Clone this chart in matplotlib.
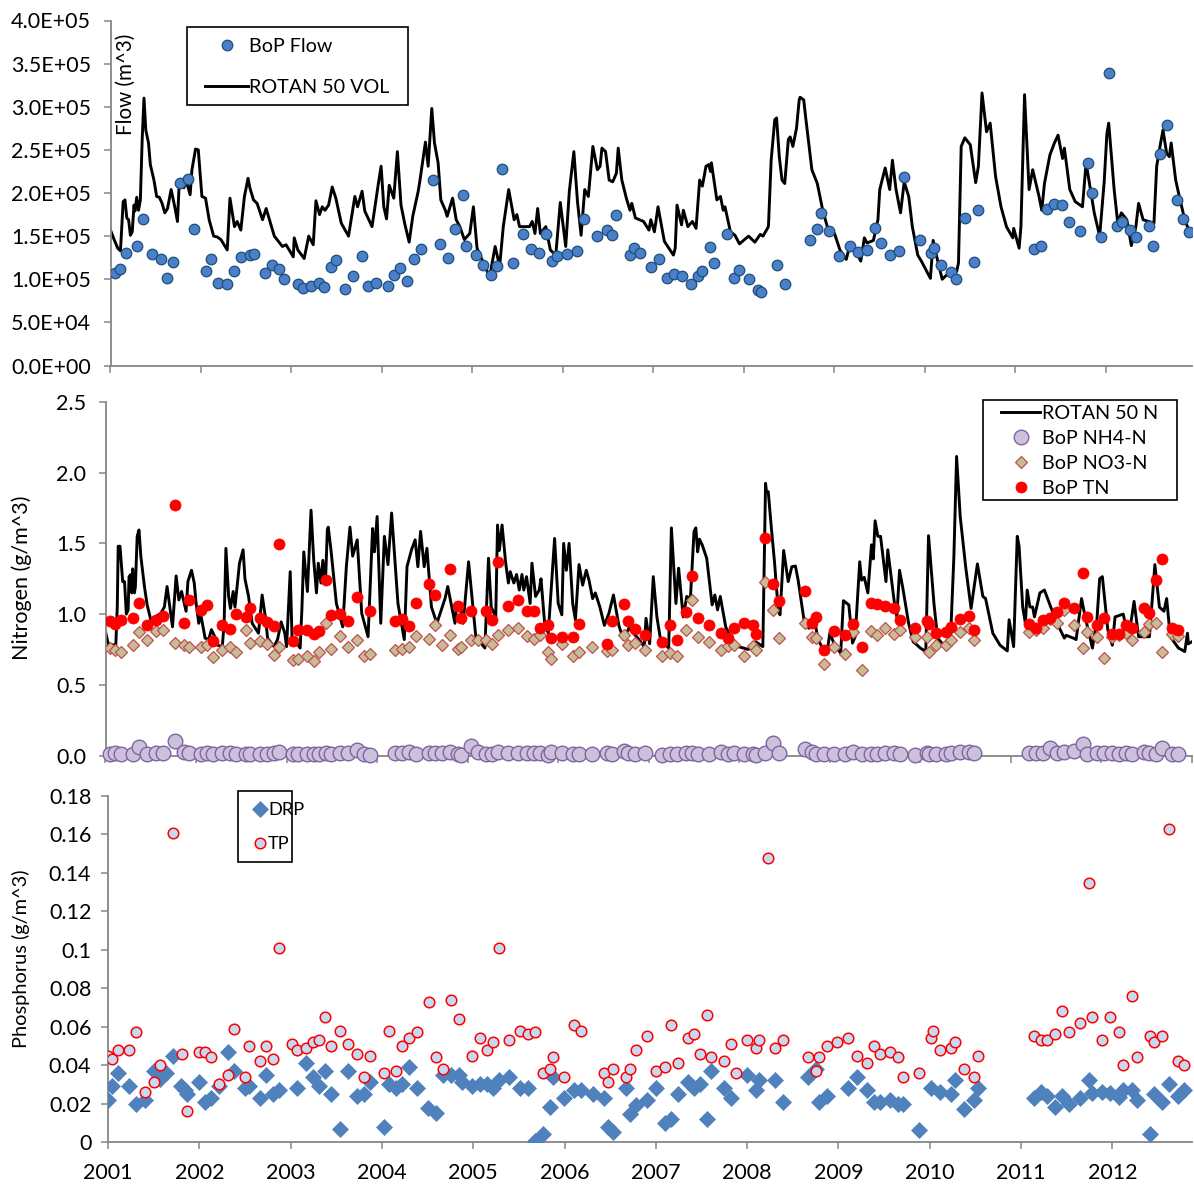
import matplotlib
matplotlib.use('Agg')
import matplotlib.pyplot as plt
from matplotlib.patches import Rectangle

plt.rcParams['font.family'] = ['Lato', 'DejaVu Sans']

# ---- flow panel (values in 1e5 m^3)
flow_t = [2001.05, 2001.11, 2001.17, 2001.29, 2001.36, 2001.46, 2001.56, 2001.62, 2001.69, 2001.77,
          2001.86, 2001.92, 2002.06, 2002.11, 2002.19, 2002.29, 2002.36, 2002.44, 2002.54, 2002.59,
          2002.71, 2002.78, 2002.86, 2002.92, 2003.07, 2003.13, 2003.22, 2003.30, 2003.36, 2003.44,
          2003.49, 2003.59, 2003.68, 2003.78, 2003.85, 2003.93, 2004.07, 2004.13, 2004.20, 2004.28,
          2004.35, 2004.43, 2004.56, 2004.64, 2004.73, 2004.81, 2004.89, 2004.93, 2005.04, 2005.12,
          2005.20, 2005.27, 2005.33, 2005.45, 2005.56, 2005.65, 2005.73, 2005.81, 2005.88, 2005.93,
          2006.04, 2006.16, 2006.23, 2006.38, 2006.49, 2006.54, 2006.59, 2006.74, 2006.78, 2006.85,
          2006.97, 2007.06, 2007.15, 2007.23, 2007.31, 2007.41, 2007.49, 2007.54, 2007.62, 2007.67,
          2007.81, 2007.89, 2007.94, 2008.06, 2008.16, 2008.19, 2008.37, 2008.45, 2008.73, 2008.81,
          2008.85, 2008.94, 2009.05, 2009.17, 2009.26, 2009.36, 2009.45, 2009.51, 2009.61, 2009.71,
          2009.77, 2009.94, 2010.07, 2010.10, 2010.18, 2010.29, 2010.34, 2010.44, 2010.54, 2010.59,
          2011.20, 2011.28, 2011.35, 2011.43, 2011.51, 2011.59, 2011.71, 2011.80, 2011.84, 2011.95,
          2012.03, 2012.12, 2012.18, 2012.27, 2012.33, 2012.47, 2012.52, 2012.60, 2012.67, 2012.78,
          2012.85, 2012.92]
flow_v = [1.07, 1.12, 1.31, 1.39, 1.70, 1.29, 1.23, 1.02, 1.20, 2.12,
          2.16, 1.58, 1.10, 1.23, 0.96, 0.95, 1.10, 1.26, 1.28, 1.29,
          1.07, 1.17, 1.12, 1.00, 0.95, 0.90, 0.92, 0.96, 0.91, 1.14,
          1.22, 0.89, 1.04, 1.27, 0.92, 0.96, 0.92, 1.05, 1.13, 0.98,
          1.23, 1.35, 2.15, 1.41, 1.25, 1.58, 1.98, 1.38, 1.28, 1.16,
          1.05, 1.15, 2.28, 1.19, 1.52, 1.35, 1.30, 1.53, 1.21, 1.27,
          1.29, 1.33, 1.70, 1.50, 1.57, 1.51, 1.75, 1.28, 1.36, 1.30,
          1.14, 1.24, 1.02, 1.06, 1.04, 0.94, 1.04, 1.09, 1.37, 1.19,
          1.53, 1.02, 1.11, 1.00, 0.87, 0.85, 1.17, 0.95, 1.46, 1.58,
          1.77, 1.56, 1.27, 1.38, 1.32, 1.34, 1.60, 1.42, 1.28, 1.33,
          2.19, 1.45, 1.30, 1.36, 1.16, 1.08, 1.00, 1.71, 1.20, 1.80,
          1.35, 1.38, 1.81, 1.87, 1.86, 1.66, 1.56, 2.35, 2.00, 1.49,
          3.39, 1.62, 1.66, 1.57, 1.49, 1.62, 1.39, 2.45, 2.79, 1.92,
          1.70, 1.55]

vol_t = [2001.00, 2001.04, 2001.08, 2001.11, 2001.14, 2001.16, 2001.18, 2001.20, 2001.22, 2001.24,
         2001.26, 2001.27, 2001.29, 2001.31, 2001.33, 2001.35, 2001.37, 2001.39, 2001.42, 2001.44,
         2001.48, 2001.51, 2001.54, 2001.57, 2001.60, 2001.63, 2001.67, 2001.71, 2001.74, 2001.76,
         2001.81, 2001.84, 2001.88, 2001.90, 2001.94, 2001.97, 2002.01, 2002.05, 2002.09, 2002.14,
         2002.18, 2002.22, 2002.29, 2002.32, 2002.37, 2002.40, 2002.44, 2002.48, 2002.52, 2002.54,
         2002.58, 2002.62, 2002.68, 2002.72, 2002.81, 2002.90, 2002.94, 2003.02, 2003.03, 2003.07,
         2003.14, 2003.19, 2003.24, 2003.27, 2003.31, 2003.34, 2003.37, 2003.41, 2003.45, 2003.49,
         2003.55, 2003.63, 2003.70, 2003.73, 2003.78, 2003.81, 2003.89, 2003.96, 2003.99, 2004.02,
         2004.05, 2004.08, 2004.13, 2004.17, 2004.21, 2004.25, 2004.30, 2004.34, 2004.40, 2004.42,
         2004.48, 2004.51, 2004.55, 2004.58, 2004.62, 2004.65, 2004.70, 2004.72, 2004.78, 2004.82,
         2004.86, 2004.91, 2004.97, 2005.01, 2005.05, 2005.12, 2005.19, 2005.25, 2005.30, 2005.34,
         2005.40, 2005.46, 2005.49, 2005.52, 2005.63, 2005.66, 2005.69, 2005.72, 2005.75, 2005.81,
         2005.86, 2005.92, 2005.97, 2006.03, 2006.07, 2006.12, 2006.16, 2006.20, 2006.24, 2006.28,
         2006.33, 2006.38, 2006.41, 2006.43, 2006.47, 2006.51, 2006.55, 2006.59, 2006.61, 2006.65,
         2006.70, 2006.74, 2006.76, 2006.80, 2006.89, 2006.95, 2006.97, 2007.01, 2007.05, 2007.12,
         2007.22, 2007.24, 2007.26, 2007.31, 2007.33, 2007.38, 2007.43, 2007.47, 2007.51, 2007.54,
         2007.58, 2007.61, 2007.63, 2007.64, 2007.70, 2007.74, 2007.77, 2007.79, 2007.85, 2007.90,
         2007.95, 2008.05, 2008.12, 2008.18, 2008.21, 2008.27, 2008.30, 2008.34, 2008.36, 2008.39,
         2008.42, 2008.45, 2008.49, 2008.51, 2008.54, 2008.58, 2008.61, 2008.62, 2008.66, 2008.68,
         2008.75, 2008.81, 2008.87, 2008.92, 2009.00, 2009.06, 2009.13, 2009.17, 2009.23, 2009.29,
         2009.33, 2009.36, 2009.43, 2009.48, 2009.50, 2009.56, 2009.61, 2009.64, 2009.68, 2009.73,
         2009.77, 2009.82, 2009.86, 2009.92, 2009.96, 2010.06, 2010.09, 2010.13, 2010.19, 2010.28,
         2010.35, 2010.37, 2010.40, 2010.44, 2010.50, 2010.56, 2010.59, 2010.63, 2010.68, 2010.72,
         2010.78, 2010.84, 2010.90, 2010.97, 2010.98, 2011.04, 2011.06, 2011.10, 2011.15, 2011.19,
         2011.26, 2011.29, 2011.32, 2011.38, 2011.43, 2011.47, 2011.52, 2011.54, 2011.60, 2011.66,
         2011.74, 2011.78, 2011.87, 2011.93, 2011.98, 2012.01, 2012.03, 2012.09, 2012.13, 2012.17,
         2012.23, 2012.28, 2012.33, 2012.36, 2012.41, 2012.53, 2012.56, 2012.60, 2012.63, 2012.67,
         2012.70, 2012.72, 2012.77, 2012.81, 2012.87, 2012.93]
vol_v = [1.57, 1.46, 1.36, 1.33, 1.90, 1.92, 1.71, 1.69, 1.51, 1.55,
         1.86, 1.79, 1.95, 1.80, 1.92, 2.62, 3.10, 2.73, 2.58, 2.33,
         2.15, 1.96, 1.95, 1.88, 1.77, 1.82, 2.04, 1.84, 1.67, 2.13,
         2.06, 2.13, 1.98, 2.27, 2.51, 2.50, 1.96, 1.94, 1.69, 1.50,
         1.49, 1.46, 1.34, 1.94, 1.61, 1.67, 1.57, 1.96, 2.17, 2.06,
         1.92, 1.88, 1.69, 1.82, 1.50, 1.38, 1.40, 1.26, 1.48, 1.34,
         1.24, 1.50, 1.40, 1.91, 1.75, 1.84, 1.80, 1.86, 2.07, 1.94,
         1.65, 1.50, 1.96, 1.84, 2.02, 1.79, 1.61, 2.11, 2.31, 1.84,
         1.70, 2.09, 1.94, 2.48, 1.86, 1.65, 1.43, 1.73, 2.02, 2.15,
         2.59, 2.31, 2.98, 2.58, 2.35, 1.92, 1.80, 1.73, 1.94, 1.69,
         1.61, 1.46, 1.53, 1.84, 1.36, 1.19, 1.03, 1.38, 1.15, 1.61,
         2.04, 1.69, 1.75, 1.61, 1.61, 1.67, 1.53, 1.82, 1.53, 1.61,
         1.34, 1.28, 1.89, 1.38, 2.02, 2.48, 1.90, 1.51, 2.04, 1.96,
         2.54, 2.27, 2.31, 2.52, 2.48, 2.15, 2.13, 2.23, 2.52, 2.15,
         1.94, 1.80, 1.88, 1.71, 1.67, 1.57, 1.69, 1.55, 1.84, 1.44,
         1.28, 1.36, 1.86, 1.63, 1.80, 1.61, 1.67, 1.59, 2.15, 2.08,
         2.31, 2.33, 2.25, 2.35, 1.92, 1.96, 1.80, 1.84, 1.55, 1.51,
         1.41, 1.50, 1.43, 1.52, 1.50, 1.61, 2.38, 2.85, 2.87, 2.42,
         2.15, 2.11, 2.62, 2.65, 2.54, 2.75, 3.08, 3.11, 3.08, 2.89,
         2.27, 2.11, 1.80, 1.61, 1.53, 1.34, 1.23, 1.40, 1.34, 1.21,
         1.48, 1.42, 1.45, 1.69, 2.04, 2.29, 2.04, 2.38, 2.04, 1.77,
         2.13, 1.96, 1.61, 1.28, 1.21, 1.01, 1.45, 1.26, 1.00, 1.09,
         1.09, 1.19, 2.54, 2.64, 2.56, 2.12, 2.31, 3.16, 2.71, 2.81,
         2.19, 1.84, 1.61, 1.48, 1.59, 1.36, 1.61, 3.14, 2.04, 2.27,
         1.96, 1.80, 2.11, 2.44, 2.58, 2.67, 2.40, 2.52, 2.04, 1.90,
         1.84, 2.35, 1.77, 1.50, 2.13, 2.69, 2.81, 2.04, 1.65, 1.77,
         1.69, 1.39, 1.61, 1.88, 1.69, 1.65, 2.31, 2.56, 2.73, 2.46,
         2.42, 2.58, 2.15, 1.96, 1.69, 1.53]

# ---- nitrogen panel
n_line_t = [2001.00, 2001.03, 2001.10, 2001.11, 2001.13, 2001.14, 2001.16, 2001.19, 2001.21, 2001.23,
            2001.25, 2001.26, 2001.28, 2001.29, 2001.30, 2001.32, 2001.33, 2001.35, 2001.37, 2001.39,
            2001.43, 2001.46, 2001.50, 2001.61, 2001.65, 2001.68, 2001.70, 2001.74, 2001.78, 2001.81,
            2001.84, 2001.89, 2001.91, 2001.95, 2001.98, 2002.00, 2002.03, 2002.05, 2002.10, 2002.14,
            2002.17, 2002.20, 2002.24, 2002.29, 2002.31, 2002.33, 2002.36, 2002.38, 2002.41, 2002.43,
            2002.48, 2002.52, 2002.54, 2002.58, 2002.62, 2002.69, 2002.73, 2002.77, 2002.79, 2002.86,
            2002.90, 2002.94, 2002.98, 2003.00, 2003.04, 2003.06, 2003.15, 2003.17, 2003.19, 2003.23,
            2003.27, 2003.30, 2003.33, 2003.35, 2003.38, 2003.40, 2003.43, 2003.45, 2003.46, 2003.49,
            2003.55, 2003.62, 2003.66, 2003.70, 2003.73, 2003.78, 2003.83, 2003.90, 2003.95, 2003.97,
            2004.00, 2004.04, 2004.08, 2004.12, 2004.16, 2004.23, 2004.30, 2004.33, 2004.38, 2004.42,
            2004.45, 2004.48, 2004.52, 2004.55, 2004.60, 2004.66, 2004.75, 2004.78, 2004.86, 2004.88,
            2004.92, 2004.95, 2005.01, 2005.09, 2005.19, 2005.23, 2005.26, 2005.31, 2005.33, 2005.35,
            2005.38, 2005.42, 2005.45, 2005.47, 2005.51, 2005.54, 2005.57, 2005.60, 2005.62, 2005.65,
            2005.69, 2005.71, 2005.75, 2005.79, 2005.81, 2005.85, 2005.89, 2005.96, 2006.00, 2006.04,
            2006.06, 2006.09, 2006.12, 2006.16, 2006.19, 2006.23, 2006.27, 2006.31, 2006.34, 2006.38,
            2006.41, 2006.46, 2006.51, 2006.56, 2006.61, 2006.67, 2006.72, 2006.78, 2006.88, 2006.95,
            2006.97, 2007.01, 2007.05, 2007.09, 2007.13, 2007.22, 2007.25, 2007.30, 2007.33, 2007.38,
            2007.42, 2007.46, 2007.50, 2007.52, 2007.54, 2007.56, 2007.59, 2007.64, 2007.70, 2007.73,
            2007.76, 2007.79, 2007.85, 2007.91, 2007.99, 2008.10, 2008.18, 2008.26, 2008.27, 2008.29,
            2008.30, 2008.32, 2008.35, 2008.39, 2008.43, 2008.45, 2008.49, 2008.54, 2008.58, 2008.62,
            2008.65, 2008.72, 2008.77, 2008.83, 2008.87, 2008.93, 2008.97, 2009.00, 2009.06, 2009.12,
            2009.15, 2009.21, 2009.25, 2009.28, 2009.33, 2009.35, 2009.38, 2009.42, 2009.46, 2009.48,
            2009.50, 2009.53, 2009.56, 2009.62, 2009.64, 2009.67, 2009.71, 2009.74, 2009.77, 2009.81,
            2009.87, 2009.92, 2010.00, 2010.06, 2010.09, 2010.15, 2010.19, 2010.27, 2010.33, 2010.37,
            2010.40, 2010.44, 2010.50, 2010.56, 2010.63, 2010.69, 2010.72, 2010.80, 2010.88, 2010.96,
            2010.98, 2011.03, 2011.07, 2011.09, 2011.13, 2011.16, 2011.18, 2011.21, 2011.24, 2011.26,
            2011.32, 2011.37, 2011.44, 2011.51, 2011.59, 2011.61, 2011.69, 2011.72, 2011.78, 2011.82,
            2011.90, 2011.95, 2011.98, 2012.01, 2012.07, 2012.12, 2012.15, 2012.24, 2012.30, 2012.36,
            2012.41, 2012.53, 2012.59, 2012.64, 2012.69, 2012.72, 2012.76, 2012.85, 2012.92, 2012.95,
            2012.96, 2013.00]
n_line_v = [0.875, 0.79, 0.78, 0.72, 1.05, 1.48, 1.48, 1.23, 1.23, 1.00,
            1.03, 1.265, 1.28, 1.15, 1.32, 1.15, 1.195, 1.55, 1.595, 1.41,
            1.195, 1.065, 0.96, 1.005, 1.05, 1.195, 1.10, 0.91, 1.27, 1.10,
            1.16, 1.02, 1.23, 1.31, 1.22, 1.08, 0.935, 1.005, 0.83, 0.82,
            0.89, 0.85, 0.78, 0.77, 0.935, 1.465, 1.125, 1.04, 1.16, 1.05,
            1.36, 1.455, 1.25, 1.125, 0.935, 0.865, 1.135, 0.96, 0.83, 0.77,
            0.82, 0.945, 0.865, 0.77, 1.30, 0.84, 0.76, 1.05, 1.44, 1.16,
            1.735, 1.38, 1.15, 1.36, 1.22, 1.38, 1.23, 1.595, 1.615, 1.455,
            1.075, 0.91, 1.335, 1.615, 1.41, 1.525, 1.005, 0.84, 1.605, 1.44,
            1.69, 0.935, 1.55, 1.35, 1.715, 1.075, 0.82, 1.335, 1.455, 1.525,
            1.335, 1.585, 1.335, 1.465, 1.05, 0.935, 1.11, 1.195, 0.935, 1.08,
            1.05, 0.935, 1.37, 0.84, 0.76, 1.395, 1.05, 0.98, 1.63, 1.45,
            1.63, 1.36, 1.22, 1.30, 1.22, 1.28, 1.17, 1.28, 1.17, 1.265,
            1.075, 1.36, 1.125, 1.17, 1.25, 0.935, 0.865, 1.535, 1.075, 0.995,
            1.50, 1.31, 1.50, 1.075, 0.96, 1.35, 1.205, 1.31, 1.24, 1.11,
            1.15, 1.05, 0.92, 1.005, 1.135, 0.92, 0.82, 0.90, 0.83, 0.77,
            0.97, 0.79, 1.265, 0.98, 0.82, 0.76, 1.61, 1.075, 1.325, 0.98,
            1.125, 1.11, 1.585, 1.61, 1.44, 1.53, 1.49, 1.395, 1.065, 1.135,
            1.03, 1.125, 0.91, 0.83, 0.77, 0.75, 0.805, 0.77, 1.17, 1.925,
            1.87, 1.865, 1.64, 1.36, 1.03, 0.995, 1.45, 1.23, 1.335, 1.34,
            1.24, 0.935, 0.90, 0.96, 0.82, 0.745, 0.735, 0.865, 0.77, 0.725,
            1.095, 1.065, 0.795, 0.84, 1.37, 1.24, 1.26, 1.15, 1.49, 1.39,
            1.66, 1.55, 1.55, 1.23, 1.455, 1.30, 1.095, 0.98, 1.31, 1.17,
            0.935, 0.805, 0.76, 0.735, 1.555, 1.075, 0.83, 0.77, 0.78, 1.405,
            2.115, 1.69, 1.335, 1.04, 1.355, 1.125, 1.11, 0.865, 0.78, 0.74,
            0.96, 0.77, 1.55, 1.48, 1.05, 0.935, 1.17, 1.05, 1.05, 0.98,
            1.15, 1.17, 1.05, 0.935, 0.83, 0.85, 0.83, 0.82, 1.11, 0.98,
            0.76, 0.96, 1.25, 1.265, 0.89, 0.78, 0.98, 1.00, 0.83, 1.09,
            0.84, 0.84, 1.35, 1.05, 1.02, 1.11, 0.84, 0.76, 0.735, 0.865,
            0.79, 0.805]

tn_t = [2001.05, 2001.11, 2001.17, 2001.30, 2001.37, 2001.46, 2001.56, 2001.63, 2001.77, 2001.87,
        2001.92, 2002.06, 2002.12, 2002.19, 2002.29, 2002.37, 2002.44, 2002.55, 2002.60, 2002.71,
        2002.78, 2002.86, 2002.92, 2003.07, 2003.13, 2003.22, 2003.30, 2003.36, 2003.43, 2003.49,
        2003.59, 2003.68, 2003.78, 2003.92, 2004.20, 2004.28, 2004.35, 2004.43, 2004.57, 2004.64,
        2004.81, 2004.89, 2004.93, 2005.04, 2005.20, 2005.27, 2005.33, 2005.44, 2005.56, 2005.65,
        2005.73, 2005.80, 2005.89, 2005.92, 2006.04, 2006.16, 2006.23, 2006.54, 2006.59, 2006.73,
        2006.77, 2006.85, 2006.96, 2007.15, 2007.23, 2007.31, 2007.41, 2007.48, 2007.54, 2007.67,
        2007.80, 2007.88, 2007.94, 2008.05, 2008.15, 2008.19, 2008.28, 2008.37, 2008.44, 2008.73,
        2008.80, 2008.85, 2008.94, 2009.05, 2009.17, 2009.26, 2009.36, 2009.45, 2009.52, 2009.61,
        2009.71, 2009.77, 2009.94, 2010.07, 2010.10, 2010.17, 2010.28, 2010.34, 2010.44, 2010.54,
        2010.59, 2011.20, 2011.28, 2011.35, 2011.43, 2011.51, 2011.59, 2011.70, 2011.80, 2011.84,
        2011.95, 2012.03, 2012.12, 2012.19, 2012.27, 2012.34, 2012.47, 2012.52, 2012.60, 2012.67,
        2012.78, 2012.85]
tn_v = [0.95, 0.93, 0.96, 0.97, 1.08, 0.92, 0.96, 0.985, 1.77, 0.94,
        1.10, 1.03, 1.065, 0.81, 0.92, 0.895, 1.00, 0.98, 1.04, 0.97,
        0.945, 0.915, 1.495, 0.81, 0.885, 0.885, 0.86, 0.88, 1.24, 0.995,
        1.00, 0.95, 1.12, 1.02, 0.95, 0.965, 0.915, 1.08, 1.215, 1.135,
        1.32, 1.06, 0.97, 1.02, 1.02, 0.96, 1.37, 1.055, 1.10, 1.025,
        1.025, 0.905, 0.925, 0.83, 0.835, 0.835, 0.93, 0.79, 0.95, 1.07,
        0.95, 0.895, 0.85, 0.80, 0.92, 0.82, 1.015, 1.27, 0.97, 0.92,
        0.865, 0.83, 0.90, 0.94, 0.92, 0.86, 1.54, 1.21, 1.09, 1.16,
        0.94, 0.98, 0.745, 0.88, 0.855, 0.93, 0.765, 1.075, 1.07, 1.055,
        1.045, 0.96, 0.90, 0.95, 0.93, 0.865, 0.875, 0.91, 0.965, 0.99,
        0.89, 0.93, 0.90, 0.96, 0.975, 1.015, 1.08, 1.04, 1.29, 0.98,
        0.92, 0.975, 0.86, 0.86, 0.925, 0.90, 1.04, 1.01, 1.24, 1.39,
        0.90, 0.885]

no3_t = [2001.05, 2001.11, 2001.17, 2001.30, 2001.37, 2001.46, 2001.56, 2001.63, 2001.77, 2001.87,
         2001.92, 2002.06, 2002.12, 2002.19, 2002.29, 2002.37, 2002.44, 2002.55, 2002.60, 2002.71,
         2002.78, 2002.86, 2002.92, 2003.07, 2003.13, 2003.22, 2003.30, 2003.36, 2003.43, 2003.49,
         2003.59, 2003.68, 2003.78, 2003.85, 2003.92, 2004.20, 2004.28, 2004.35, 2004.43, 2004.57,
         2004.64, 2004.72, 2004.81, 2004.89, 2004.93, 2005.04, 2005.11, 2005.20, 2005.27, 2005.33,
         2005.44, 2005.56, 2005.65, 2005.73, 2005.80, 2005.89, 2005.92, 2006.04, 2006.16, 2006.23,
         2006.37, 2006.54, 2006.59, 2006.73, 2006.77, 2006.85, 2006.96, 2007.15, 2007.23, 2007.31,
         2007.41, 2007.48, 2007.54, 2007.67, 2007.80, 2007.88, 2007.94, 2008.05, 2008.15, 2008.19,
         2008.28, 2008.37, 2008.44, 2008.73, 2008.80, 2008.85, 2008.94, 2009.05, 2009.17, 2009.26,
         2009.36, 2009.45, 2009.52, 2009.61, 2009.71, 2009.77, 2009.94, 2010.07, 2010.10, 2010.17,
         2010.28, 2010.34, 2010.44, 2010.54, 2010.59, 2011.20, 2011.28, 2011.35, 2011.43, 2011.51,
         2011.59, 2011.70, 2011.80, 2011.84, 2011.95, 2012.03, 2012.12, 2012.19, 2012.27, 2012.34,
         2012.47, 2012.52, 2012.60, 2012.67, 2012.78, 2012.85]
no3_v = [0.76, 0.745, 0.735, 0.785, 0.87, 0.82, 0.88, 0.885, 0.795, 0.785,
         0.765, 0.77, 0.785, 0.70, 0.745, 0.765, 0.73, 0.89, 0.795, 0.81,
         0.79, 0.71, 0.765, 0.675, 0.685, 0.705, 0.665, 0.735, 0.94, 0.755,
         0.845, 0.77, 0.82, 0.705, 0.715, 0.745, 0.755, 0.77, 0.845, 0.825,
         0.92, 0.785, 0.85, 0.75, 0.77, 0.815, 0.82, 0.82, 0.79, 0.85,
         0.885, 0.905, 0.845, 0.825, 0.85, 0.73, 0.68, 0.79, 0.705, 0.73,
         0.77, 0.74, 0.745, 0.855, 0.78, 0.795, 0.745, 0.705, 0.725, 0.705,
         0.885, 1.10, 0.835, 0.80, 0.745, 0.775, 0.78, 0.705, 0.775, 0.745,
         1.23, 1.03, 0.83, 0.94, 0.84, 0.83, 0.645, 0.77, 0.715, 0.875,
         0.605, 0.88, 0.85, 0.905, 0.86, 0.885, 0.835, 0.835, 0.735, 0.785,
         0.78, 0.82, 0.87, 0.90, 0.815, 0.87, 0.89, 0.90, 0.965, 0.94,
         1.03, 0.925, 0.76, 0.875, 0.84, 0.69, 0.84, 0.85, 0.865, 0.815,
         0.87, 0.93, 0.94, 0.735, 0.86, 0.845]
nh4_v = [0.012, 0.018, 0.012, 0.012, 0.06, 0.012, 0.018, 0.02, 0.10, 0.022,
         0.015, 0.012, 0.015, 0.012, 0.015, 0.015, 0.012, 0.012, 0.01, 0.01,
         0.012, 0.015, 0.022, 0.008, 0.012, 0.012, 0.012, 0.012, 0.015, 0.012,
         0.015, 0.018, 0.04, 0.012, 0.005, 0.015, 0.02, 0.028, 0.012, 0.015,
         0.018, 0.018, 0.025, 0.012, 0.005, 0.065, 0.025, 0.012, 0.012, 0.022,
         0.02, 0.018, 0.015, 0.015, 0.015, 0.005, 0.022, 0.018, 0.012, 0.012,
         0.012, 0.02, 0.008, 0.03, 0.02, 0.012, 0.02, 0.005, 0.01, 0.01,
         0.015, 0.015, 0.012, 0.01, 0.025, 0.012, 0.015, 0.012, 0.008, 0.004,
         0.015, 0.09, 0.015, 0.045, 0.025, 0.012, 0.008, 0.012, 0.012, 0.022,
         0.008, 0.012, 0.012, 0.015, 0.018, 0.012, 0.005, 0.015, 0.01, 0.008,
         0.012, 0.015, 0.022, 0.028, 0.015, 0.015, 0.015, 0.015, 0.05, 0.015,
         0.022, 0.03, 0.08, 0.012, 0.018, 0.015, 0.018, 0.012, 0.015, 0.012,
         0.022, 0.02, 0.012, 0.055, 0.012, 0.012]

# ---- phosphorus panel
tp_t = [2001.00, 2001.04, 2001.11, 2001.23, 2001.31, 2001.40, 2001.50, 2001.57, 2001.71, 2001.81,
        2001.86, 2002.00, 2002.06, 2002.13, 2002.22, 2002.31, 2002.38, 2002.50, 2002.54, 2002.66,
        2002.73, 2002.81, 2002.87, 2003.02, 2003.07, 2003.17, 2003.24, 2003.31, 2003.38, 2003.44,
        2003.54, 2003.63, 2003.73, 2003.80, 2003.87, 2004.02, 2004.08, 2004.15, 2004.22, 2004.30,
        2004.38, 2004.52, 2004.59, 2004.67, 2004.76, 2004.84, 2004.99, 2005.07, 2005.15, 2005.22,
        2005.28, 2005.39, 2005.51, 2005.60, 2005.68, 2005.76, 2005.84, 2005.87, 2005.99, 2006.10,
        2006.18, 2006.43, 2006.48, 2006.53, 2006.67, 2006.72, 2006.78, 2006.90, 2007.00, 2007.10,
        2007.17, 2007.24, 2007.35, 2007.42, 2007.48, 2007.56, 2007.61, 2007.75, 2007.82, 2007.88,
        2008.00, 2008.10, 2008.13, 2008.23, 2008.31, 2008.39, 2008.67, 2008.75, 2008.79, 2008.88,
        2008.99, 2009.11, 2009.20, 2009.31, 2009.39, 2009.46, 2009.56, 2009.65, 2009.71, 2009.88,
        2010.01, 2010.04, 2010.11, 2010.23, 2010.28, 2010.38, 2010.48, 2010.53, 2011.14, 2011.22,
        2011.29, 2011.37, 2011.45, 2011.53, 2011.65, 2011.74, 2011.78, 2011.89, 2011.97, 2012.07,
        2012.12, 2012.22, 2012.27, 2012.41, 2012.46, 2012.54, 2012.62, 2012.72, 2012.79]
tp_v = [0.045, 0.043, 0.048, 0.048, 0.057, 0.026, 0.031, 0.040, 0.161, 0.046,
        0.016, 0.047, 0.047, 0.044, 0.030, 0.035, 0.059, 0.034, 0.050, 0.042,
        0.050, 0.043, 0.101, 0.051, 0.048, 0.049, 0.052, 0.053, 0.065, 0.050,
        0.058, 0.051, 0.046, 0.034, 0.045, 0.036, 0.058, 0.037, 0.050, 0.054,
        0.057, 0.073, 0.044, 0.038, 0.074, 0.064, 0.045, 0.054, 0.048, 0.052,
        0.101, 0.053, 0.058, 0.056, 0.057, 0.036, 0.038, 0.044, 0.034, 0.061,
        0.058, 0.036, 0.031, 0.038, 0.034, 0.038, 0.048, 0.055, 0.037, 0.039,
        0.061, 0.041, 0.054, 0.056, 0.046, 0.066, 0.044, 0.042, 0.051, 0.036,
        0.053, 0.049, 0.053, 0.148, 0.049, 0.053, 0.044, 0.037, 0.044, 0.050,
        0.052, 0.054, 0.045, 0.041, 0.050, 0.046, 0.047, 0.044, 0.034, 0.036,
        0.054, 0.058, 0.048, 0.049, 0.052, 0.038, 0.034, 0.045, 0.055, 0.053,
        0.053, 0.056, 0.068, 0.057, 0.062, 0.135, 0.065, 0.053, 0.065, 0.057,
        0.040, 0.076, 0.044, 0.055, 0.052, 0.055, 0.163, 0.042, 0.040]

drp_t = [2001.00, 2001.04, 2001.11, 2001.23, 2001.31, 2001.40, 2001.50, 2001.57, 2001.64, 2001.71,
         2001.80, 2001.84, 2001.86, 2002.00, 2002.06, 2002.13, 2002.22, 2002.31, 2002.38, 2002.50,
         2002.54, 2002.66, 2002.73, 2002.81, 2002.87, 2003.07, 2003.17, 2003.24, 2003.31, 2003.38,
         2003.44, 2003.54, 2003.63, 2003.73, 2003.80, 2003.87, 2004.02, 2004.08, 2004.15, 2004.22,
         2004.30, 2004.38, 2004.51, 2004.59, 2004.67, 2004.76, 2004.84, 2004.88, 2004.99, 2005.07,
         2005.15, 2005.22, 2005.28, 2005.39, 2005.51, 2005.60, 2005.68, 2005.76, 2005.84, 2005.87,
         2005.99, 2006.10, 2006.18, 2006.31, 2006.43, 2006.48, 2006.53, 2006.67, 2006.72, 2006.78,
         2006.90, 2007.00, 2007.10, 2007.17, 2007.24, 2007.35, 2007.42, 2007.48, 2007.56, 2007.61,
         2007.75, 2007.82, 2008.00, 2008.10, 2008.13, 2008.31, 2008.39, 2008.67, 2008.75, 2008.79,
         2008.88, 2009.11, 2009.20, 2009.31, 2009.39, 2009.46, 2009.56, 2009.65, 2009.71, 2009.88,
         2010.01, 2010.11, 2010.23, 2010.28, 2010.38, 2010.48, 2010.53, 2011.14, 2011.22, 2011.29,
         2011.37, 2011.45, 2011.53, 2011.65, 2011.74, 2011.78, 2011.89, 2011.97, 2012.07, 2012.12,
         2012.22, 2012.27, 2012.41, 2012.46, 2012.54, 2012.62, 2012.72, 2012.79]
drp_v = [0.022, 0.029, 0.036, 0.029, 0.020, 0.022, 0.037, 0.033, 0.036, 0.045,
         0.029, 0.027, 0.025, 0.031, 0.021, 0.023, 0.029, 0.047, 0.037, 0.028,
         0.029, 0.023, 0.035, 0.025, 0.027, 0.028, 0.041, 0.034, 0.029, 0.037,
         0.025, 0.007, 0.037, 0.024, 0.025, 0.031, 0.008, 0.030, 0.028, 0.030,
         0.039, 0.028, 0.0175, 0.015, 0.035, 0.035, 0.035, 0.031, 0.029, 0.030,
         0.030, 0.028, 0.032, 0.034, 0.028, 0.028, 0.0005, 0.004, 0.018, 0.034,
         0.023, 0.027, 0.027, 0.025, 0.023, 0.008, 0.005, 0.028, 0.0145, 0.019,
         0.022, 0.028, 0.010, 0.012, 0.025, 0.031, 0.028, 0.030, 0.012, 0.037,
         0.028, 0.023, 0.035, 0.027, 0.032, 0.032, 0.021, 0.034, 0.038, 0.021,
         0.024, 0.028, 0.034, 0.027, 0.021, 0.021, 0.022, 0.020, 0.020, 0.006,
         0.028, 0.026, 0.025, 0.032, 0.017, 0.022, 0.028, 0.023, 0.026, 0.024,
         0.018, 0.024, 0.020, 0.023, 0.032, 0.0255, 0.026, 0.0255, 0.0235, 0.027,
         0.027, 0.022, 0.004, 0.025, 0.021, 0.030, 0.024, 0.027]

year_ticks = list(range(2001, 2014))
year_labels = [str(y) for y in range(2001, 2013)]
flow_ticks = [0, 0.5, 1.0, 1.5, 2.0, 2.5, 3.0, 3.5, 4.0]
flow_labels = ['0.0E+00', '5.0E+04', '1.0E+05', '1.5E+05', '2.0E+05', '2.5E+05', '3.0E+05', '3.5E+05', '4.0E+05']
n_ticks = [0, 0.5, 1.0, 1.5, 2.0, 2.5]
n_labels = ['0.0', '0.5', '1.0', '1.5', '2.0', '2.5']
p_ticks = [0, 0.02, 0.04, 0.06, 0.08, 0.1, 0.12, 0.14, 0.16, 0.18]
p_labels = ['0', '0.02', '0.04', '0.06', '0.08', '0.1', '0.12', '0.14', '0.16', '0.18']

W, H = 1194, 1184
GREY = '#868686'
FS = 15.5


def make_axes(fig, left, right, top, bottom, pad):
    """Axes from pixel edges in the image"""
    ax = fig.add_axes([left / W, 1 - bottom / H, (right - left) / W, (bottom - top) / H])
    ax.patch.set_alpha(0)
    for side in ['top', 'right']:
        ax.spines[side].set_visible(False)
    for side in ['left', 'bottom']:
        ax.spines[side].set_color(GREY)
        ax.spines[side].set_linewidth(1.3)
    ax.tick_params(axis='both', color=GREY, length=5, width=1.1, labelsize=FS, pad=pad)
    return ax


def box_legend(ax, handles, box, anchor, fontsize=14.2, **kw):
    """Legend without its own frame, on a box set in image pixels"""
    x0, y0, x1, y1 = box
    ax.add_patch(Rectangle((x0 / W, 1 - y1 / H), (x1 - x0) / W, (y1 - y0) / H,
                           transform=ax.figure.transFigure, facecolor='white', edgecolor='black',
                           linewidth=1.2, zorder=8, clip_on=False))
    leg = ax.legend(handles=handles, loc='upper left', bbox_to_anchor=(anchor[0] / W, 1 - anchor[1] / H),
                    bbox_transform=ax.figure.transFigure, borderaxespad=0, borderpad=0, frameon=False,
                    fontsize=fontsize, **kw)
    leg.set_zorder(9)
    return leg


fig = plt.figure(figsize=(W / 100, H / 100), dpi=100)

# flow
ax1 = make_axes(fig, 110.5, 1192, 20.5, 365.5, pad=9)
line1, = ax1.plot(vol_t, vol_v, color='black', lw=2.1, label='ROTAN 50 VOL', zorder=2)
pts1, = ax1.plot(flow_t, flow_v, 'o', ms=7.6, mfc='#4a7fc9', mec='#1f4e79', mew=0.9, label='BoP Flow', zorder=3)
ax1.set_xlim(2001, 2001 + (1192 - 110.5) / 90.5)
ax1.set_ylim(0, 4)
ax1.set_xticks(year_ticks[:-1])
ax1.set_xticklabels([])
ax1.set_yticks(flow_ticks)
ax1.set_yticklabels(flow_labels)
ax1.text(126 / W, 1 - 84 / H, 'Flow (m^3)', transform=fig.transFigure, rotation=90,
         ha='center', va='center', fontsize=14.8)
box_legend(ax1, [pts1, line1], (187, 27, 408, 105), (205, 38), labelspacing=1.2,
           handlelength=2.2, handletextpad=0.05)

# nitrogen
ax2 = make_axes(fig, 105.5, 1192, 402, 755.5, pad=9)
line2, = ax2.plot(n_line_t, n_line_v, color='black', lw=2.1, label='ROTAN 50 N', zorder=2)
pts_nh4, = ax2.plot(no3_t, nh4_v, 'o', ms=10.5, mfc='#ccc1da', mec='#8064a2', mew=1.0, label='BoP NH4-N', zorder=3, clip_on=False)
pts_no3, = ax2.plot(no3_t, no3_v, 'D', ms=5.8, mfc='#c4bd97', mec='#c0504d', mew=0.9, label='BoP NO3-N', zorder=4)
pts_tn, = ax2.plot(tn_t, tn_v, 'o', ms=8, mfc='#ff0000', mec='#ff0000', mew=0.5, label='BoP TN', zorder=5)
ax2.set_xlim(2001, 2013)
ax2.set_ylim(0, 2.5)
ax2.set_xticks(year_ticks)
ax2.set_xticklabels([])
ax2.set_yticks(n_ticks)
ax2.set_yticklabels(n_labels)
ax2.set_ylabel('Nitrogen (g/m^3)', fontsize=15.5)
ax2.yaxis.set_label_coords((32.5 - 105.5) / (1192 - 105.5), 0.503)
box_legend(ax2, [line2, pts_nh4, pts_no3, pts_tn], (983, 400, 1177, 500), (1001, 405), labelspacing=0.4,
           handlelength=2.0, handletextpad=0.1)

# phosphorus
ax3 = make_axes(fig, 108, 1192, 796, 1142, pad=7)
pts_drp, = ax3.plot(drp_t, drp_v, 'D', ms=8.2, mfc='#4f81bd', mec='#4f81bd', mew=0.5, label='DRP', zorder=3)
pts_tp, = ax3.plot(tp_t, tp_v, 'o', ms=7.6, mfc='#c6d9f1', mec='#ff0000', mew=1.1, label='TP', zorder=4)
ax3.set_xlim(2001, 2001 + (1192 - 108) / 91.3)
ax3.set_ylim(0, 0.18)
ax3.set_xticks(year_ticks[:-1])
ax3.set_xticklabels(year_labels)
ax3.tick_params(axis='x', pad=10)
ax3.set_yticks(p_ticks)
ax3.set_yticklabels(p_labels)
ax3.set_ylabel('Phosphorus (g/m^3)', fontsize=14.4)
ax3.yaxis.set_label_coords((30 - 108) / (1192 - 108), 0.53)
box_legend(ax3, [pts_drp, pts_tp], (238, 791, 292, 862), (249, 802), fontsize=13.2, labelspacing=1.0,
           handlelength=1.15, handletextpad=-0.1)

fig.savefig('out.png', dpi=100)
